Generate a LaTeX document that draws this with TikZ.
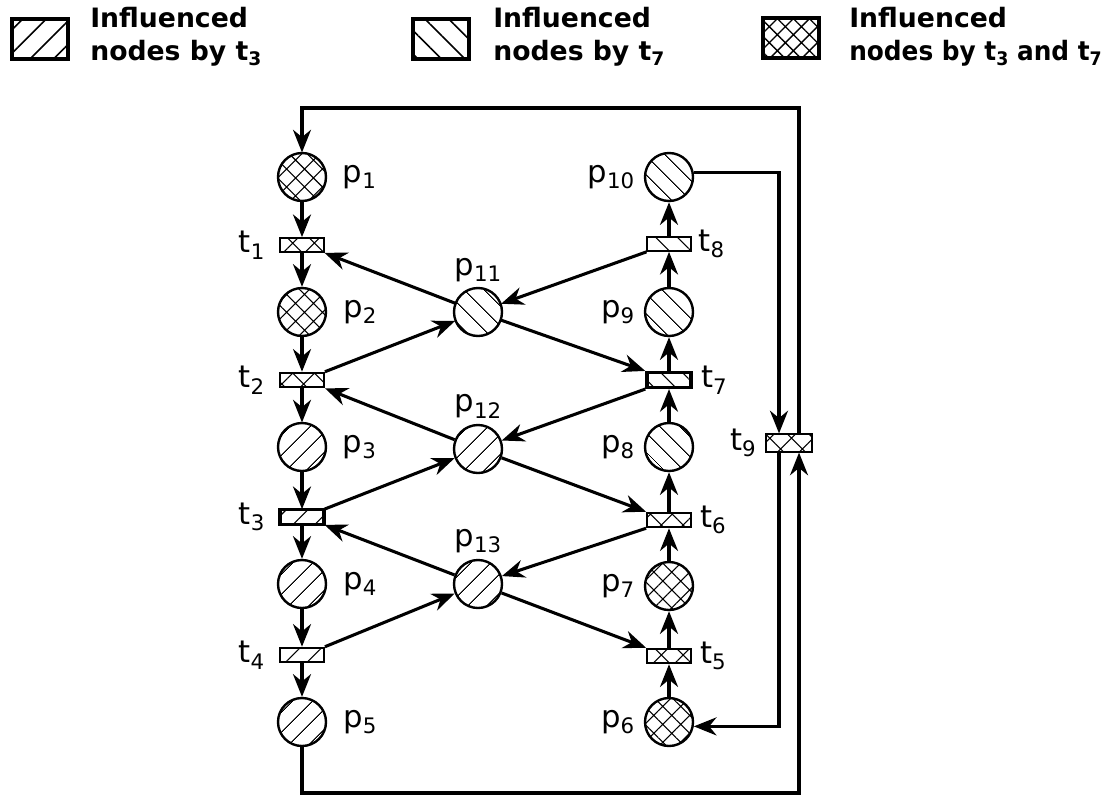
\documentclass[tikz,border=0pt]{standalone}
\usepackage{fontspec}
\setmainfont{DejaVu Sans}
\usetikzlibrary{patterns.meta,arrows.meta,calc}

\newcommand\lsub[1]{\raisebox{-5pt}{\fontsize{16}{16}\selectfont #1}}
\newcommand\bsub[1]{\raisebox{-4pt}{\fontsize{14}{14}\selectfont\bfseries #1}}

\begin{document}
\begin{tikzpicture}[x=0.75pt,y=-0.75pt,
  place/.style={circle,draw,line width=1.8pt,minimum size=36pt,inner sep=0pt},
  trans/.style={rectangle,draw,line width=1.4pt,minimum width=33pt,minimum height=11pt,inner sep=0pt},
  transb/.style={trans,line width=2.6pt},
  pne/.style={pattern={Lines[angle=45,distance=10.5pt,line width=0.8pt]}},
  pnw/.style={pattern={Lines[angle=-45,distance=10.5pt,line width=0.8pt]}},
  pxx/.style={pattern={Hatch[angle=45,distance=9.5pt,line width=0.8pt]}},
  tne/.style={pattern={Lines[angle=45,distance=11.5pt,line width=0.8pt]}},
  tnw/.style={pattern={Lines[angle=-45,distance=11.5pt,line width=0.8pt]}},
  txx/.style={pattern={Hatch[angle=45,distance=11.5pt,line width=0.8pt]}},
  lab/.style={font=\fontsize{23}{23}\selectfont,inner sep=0pt},
  legbox/.style={draw,line width=3pt,minimum width=42pt,minimum height=30pt,inner sep=0pt},
  legtxt/.style={font=\fontsize{20}{20}\selectfont\bfseries,inner sep=0pt,anchor=base west},
  flow/.style={line width=2.3pt,-{Stealth[length=17pt,width=13.5pt,inset=5.5pt]}}
]
\useasboundingbox (0,0) rectangle (1105,796);

% legend
\node[legbox,pattern={Lines[angle=45,distance=12.5pt,line width=1.2pt]}] (lg1) at (40,38.5) {};
\node[legtxt] (lg1a) at (90,27) {Influenced};
\node[legtxt] (lg1b) at (90,60) {nodes by t\bsub{3}};
\node[legbox,pattern={Lines[angle=-45,distance=12.5pt,line width=1.2pt]}] (lg2) at (440.5,38.5) {};
\node[legtxt] (lg2a) at (493,27) {Influenced};
\node[legtxt] (lg2b) at (493,60) {nodes by t\bsub{7}};
\node[legbox,pattern={Hatch[angle=45,distance=8.5pt,line width=1pt]}] (lg3) at (790.5,37.5) {};
\node[legtxt] (lg3a) at (849,27) {Influenced};
\node[legtxt] (lg3b) at (849,60) {\scalebox{0.93}[1]{nodes by t\bsub{3} and t\bsub{7}}};

% left column
\node[place,pxx,label={[lab,label distance=12pt]right:p\lsub{1}}] (p1) at (302,177) {};
\node[trans,txx,label={[lab,label distance=11pt]left:t\lsub{1}}] (t1) at (302,245) {};
\node[place,pxx,label={[lab,label distance=12pt]right:p\lsub{2}}] (p2) at (302,312) {};
\node[trans,txx,label={[lab,label distance=11pt]left:t\lsub{2}}] (t2) at (302,380) {};
\node[place,pne,label={[lab,label distance=12pt]right:p\lsub{3}}] (p3) at (302,447) {};
\node[transb,tne,label={[lab,label distance=11pt]left:t\lsub{3}}] (t3) at (302,517) {};
\node[place,pne,label={[lab,label distance=12pt]right:p\lsub{4}}] (p4) at (302,584) {};
\node[trans,tne,label={[lab,label distance=11pt]left:t\lsub{4}}] (t4) at (302,655) {};
\node[place,pne,label={[lab,label distance=12pt]right:p\lsub{5}}] (p5) at (302,722) {};

% middle column
\node[place,pnw,label={[lab,label distance=4pt]above:p\lsub{11}}] (p11) at (478,312) {};
\node[place,pne,label={[lab,label distance=4pt]above:p\lsub{12}}] (p12) at (478,449) {};
\node[place,pne,label={[lab,label distance=4pt]above:p\lsub{13}}] (p13) at (478,584) {};

% right column
\node[place,pnw,label={[lab,label distance=7pt]left:p\lsub{10}}] (p10) at (669,177) {};
\node[trans,tnw,label={[lab,label distance=5pt]right:t\lsub{8}}] (t8) at (669,244) {};
\node[place,pnw,label={[lab,label distance=7pt]left:p\lsub{9}}] (p9) at (669,312) {};
\node[transb,tnw,label={[lab,label distance=6pt]right:t\lsub{7}}] (t7) at (669,380) {};
\node[place,pnw,label={[lab,label distance=7pt]left:p\lsub{8}}] (p8) at (669,447) {};
\node[trans,txx,label={[lab,label distance=6pt]right:t\lsub{6}}] (t6) at (669,520) {};
\node[place,pxx,label={[lab,label distance=7pt]left:p\lsub{7}}] (p7) at (669,586) {};
\node[trans,txx,label={[lab,label distance=6pt]right:t\lsub{5}}] (t5) at (669,656) {};
\node[place,pxx,label={[lab,label distance=7pt]left:p\lsub{6}}] (p6) at (669,722) {};

\node[trans,txx,minimum width=34pt,minimum height=13pt,label={[lab,label distance=7pt]left:t\lsub{9}}] (t9) at (789,443) {};

% loop coordinates
\coordinate (ix) at (779,0);
\coordinate (ox) at (799,0);
\coordinate (ytop) at (0,108);
\coordinate (ybot) at (0,793);

% left column arcs
\draw[flow] (p1) -- (t1);
\draw[flow] (t1) -- (p2);
\draw[flow] (p2) -- (t2);
\draw[flow] (t2) -- (p3);
\draw[flow] (p3) -- (t3);
\draw[flow] (t3) -- (p4);
\draw[flow] (p4) -- (t4);
\draw[flow] (t4) -- (p5);

% right column arcs
\draw[flow] (p6) -- (t5);
\draw[flow] (t5) -- (p7);
\draw[flow] (p7) -- (t6);
\draw[flow] (t6) -- (p8);
\draw[flow] (p8) -- (t7);
\draw[flow] (t7) -- (p9);
\draw[flow] (p9) -- (t8);
\draw[flow] (t8) -- (p10);

% cross arcs
\draw[flow] (p11) -- (t1.south east);
\draw[flow] (t2.north east) -- (p11);
\draw[flow] (t8.south west) -- (p11);
\draw[flow] (p11) -- (t7.north west);

\draw[flow] (p12) -- (t2.south east);
\draw[flow] (t3.north east) -- (p12);
\draw[flow] (t7.south west) -- (p12);
\draw[flow] (p12) -- (t6.north west);

\draw[flow] (p13) -- (t3.south east);
\draw[flow] (t4.north east) -- (p13);
\draw[flow] (t6.south west) -- (p13);
\draw[flow] (p13) -- (t5.north west);

% loop
\draw[flow] (p10.10) -| (t9.north -| ix);
\draw[flow] (t9.south -| ix) |- (p6.-10);
\draw[flow] (p5.south) |- (ox |- ybot) -- (t9.south -| ox);
\draw[flow] (t9.north -| ox) |- (p1 |- ytop) -- (p1.north);
\end{tikzpicture}
\end{document}
